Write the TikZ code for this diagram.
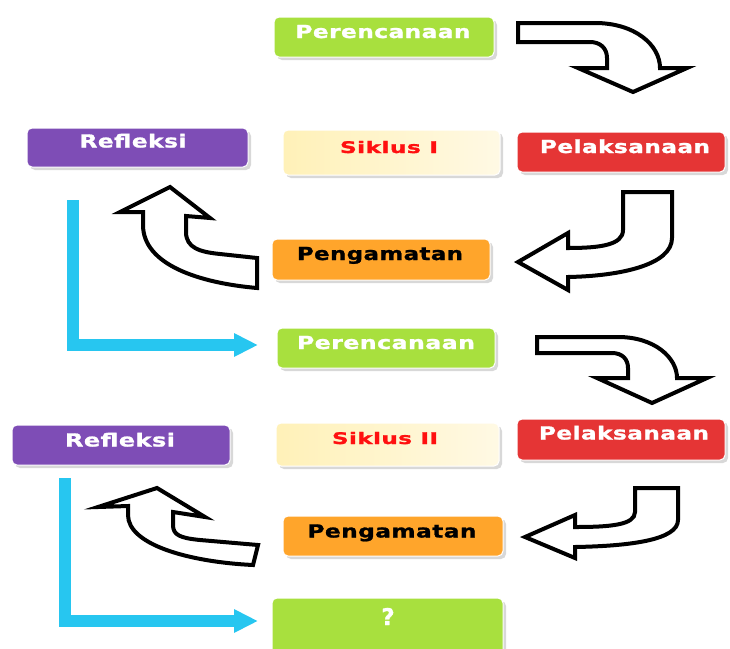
\documentclass[tikz,border=0pt]{standalone}
\usepackage{fontspec}
\setmainfont{DejaVu Sans}
\newfontfamily\lblfont{DejaVu Sans}[LetterSpace=2,FakeBold=1.2]
\usetikzlibrary{arrows.meta,shadows}
\definecolor{cgreen}{HTML}{A8E03E}
\definecolor{cpurple}{HTML}{7E4DB6}
\definecolor{cred}{HTML}{E53535}
\definecolor{corange}{HTML}{FFA52B}
\definecolor{cyell}{HTML}{FFF1B8}
\definecolor{cyell2}{HTML}{FFF9E4}
\definecolor{cblue}{HTML}{27C6F0}
\definecolor{csred}{HTML}{FF1010}
\begin{document}
\begin{tikzpicture}[x=1pt,y=-1pt,
  box/.style={draw=white, line width=1pt, rounded corners=5pt, inner sep=0pt,
    drop shadow={shadow xshift=3pt, shadow yshift=-3pt, fill=black!30, opacity=0.5}},
  sbox/.style={box, left color=cyell, right color=cyell2, draw=white},
  lbl/.style={anchor=base, inner sep=0pt, font=\lblfont\bfseries\fontsize{18}{18}\selectfont},
  slbl/.style={lbl, font=\lblfont\bfseries\fontsize{16}{16}\selectfont, text=csred},
  blueln/.style={draw=cblue, line width=12pt, line join=miter, -{Triangle[length=24pt,width=22pt]}},
  barrow/.style={draw=black, fill=white, line width=4pt, line join=miter}
]
\useasboundingbox (0,0) rectangle (730,648);

% ---- boxes, cycle I
\node[box, fill=cgreen, minimum width=220pt, minimum height=40pt] (per1) at (384,37) {};
\node[lbl, text=white] (per1t) at (383,38) {\resizebox{175pt}{\height}{Perencanaan}};

\node[box, fill=cpurple, minimum width=221pt, minimum height=39pt] (ref1) at (137.5,147.5) {};
\node[lbl, text=white] (ref1t) at (133,147.5) {\resizebox{107pt}{\height}{Refleksi}};

\node[sbox, minimum width=217pt, minimum height=45pt] (sik1) at (391.5,152.5) {};
\node[slbl] (sik1t) at (389,153) {\resizebox{98pt}{\height}{Siklus I}};

\node[box, fill=cred, minimum width=208pt, minimum height=40pt] (pel1) at (621,152) {};
\node[lbl, text=white] (pel1t) at (625,153) {\resizebox{170pt}{\height}{Pelaksanaan}};

\node[box, fill=corange, minimum width=218pt, minimum height=41pt] (pen1) at (381,259.5) {};
\node[lbl, text=black] (pen1t) at (380,260) {\resizebox{166pt}{\height}{Pengamatan}};

% ---- boxes, cycle II
\node[box, fill=cgreen, minimum width=218pt, minimum height=40pt] (per2) at (386,348) {};
\node[lbl, text=white] (per2t) at (386,349) {\resizebox{178pt}{\height}{Perencanaan}};

\node[box, fill=cpurple, minimum width=218pt, minimum height=40pt] (ref2) at (121,445) {};
\node[lbl, text=white] (ref2t) at (120,446.5) {\resizebox{110pt}{\height}{Refleksi}};

\node[sbox, minimum width=223pt, minimum height=43pt] (sik2) at (387.5,444.5) {};
\node[slbl] (sik2t) at (385,444) {\resizebox{106pt}{\height}{Siklus II}};

\node[box, fill=cred, minimum width=208pt, minimum height=41pt] (pel2) at (621,439.5) {};
\node[lbl, text=white] (pel2t) at (624,439.5) {\resizebox{170pt}{\height}{Pelaksanaan}};

\node[box, fill=corange, minimum width=220pt, minimum height=40pt] (pen2) at (393,536) {};
\node[lbl, text=black] (pen2t) at (392,537.5) {\resizebox{169pt}{\height}{Pengamatan}};

\node[box, fill=cgreen, minimum width=231pt, minimum height=62pt] (q) at (387.5,629) {};
\node[lbl, text=white, font=\lblfont\bfseries\fontsize{23}{23}\selectfont] (qt) at (388,625) {?};

% ---- blue connectors
\coordinate (b1s) at (73,200);
\coordinate (b1c) at (73,345);
\coordinate (b1e) at (258,345);
\draw[blueln] (b1s) -- (b1c) -- (b1e);
\coordinate (b2s) at (65,478);
\coordinate (b2c) at (65,621);
\coordinate (b2e) at (258,621);
\draw[blueln] (b2s) -- (b2c) -- (b2e);

% ---- block arrows
% Perencanaan -> Pelaksanaan (I)
\draw[barrow] (518,23) -- (595,23) .. controls (635,23) and (660,45) .. (660,68)
  -- (687,68) -- (633,92) -- (578,68) -- (607,68) -- (607,58)
  .. controls (607,48) and (600,42) .. (590,42) -- (518,42) -- cycle;
% Pelaksanaan -> Pengamatan (I)
\draw[barrow] (623,192) -- (672,192) -- (672,238) .. controls (672,265) and (620,276) .. (568,277)
  -- (568,290) -- (518,262) -- (568,233) -- (568,248)
  .. controls (600,248) and (623,245) .. (623,230) -- cycle;
% Pengamatan -> Refleksi (I)
\draw[barrow] (257,258) -- (257,288) .. controls (200,283) and (143,265) .. (143,225)
  -- (143,212) -- (120,212) -- (170,187) -- (210,218) -- (186,216) -- (186,232)
  .. controls (186,248) and (200,252) .. (220,254) -- cycle;
% Perencanaan -> Pelaksanaan (II)
\draw[barrow] (537,337) -- (618,337) .. controls (655,337) and (677,358) .. (677,378)
  -- (707,378) -- (652,403) -- (597,378) -- (628,378) -- (628,368)
  .. controls (628,359) and (622,353) .. (612,353) -- (537,353) -- cycle;
% Pelaksanaan -> Pengamatan (II)
\draw[barrow] (635,488) -- (678,488) -- (678,520) .. controls (678,540) and (630,546) .. (575,547)
  -- (575,558) -- (525,537) -- (575,515) -- (575,527)
  .. controls (610,527) and (635,525) .. (635,512) -- cycle;
% Pengamatan -> Refleksi (II)
\draw[barrow] (258,545) -- (253,565) .. controls (190,562) and (128,545) .. (128,515)
  -- (128,506) -- (98,507) -- (157,488) -- (205,517) -- (173,512) -- (173,525)
  .. controls (173,535) and (180,538) .. (200,540) -- cycle;
\end{tikzpicture}
\end{document}
